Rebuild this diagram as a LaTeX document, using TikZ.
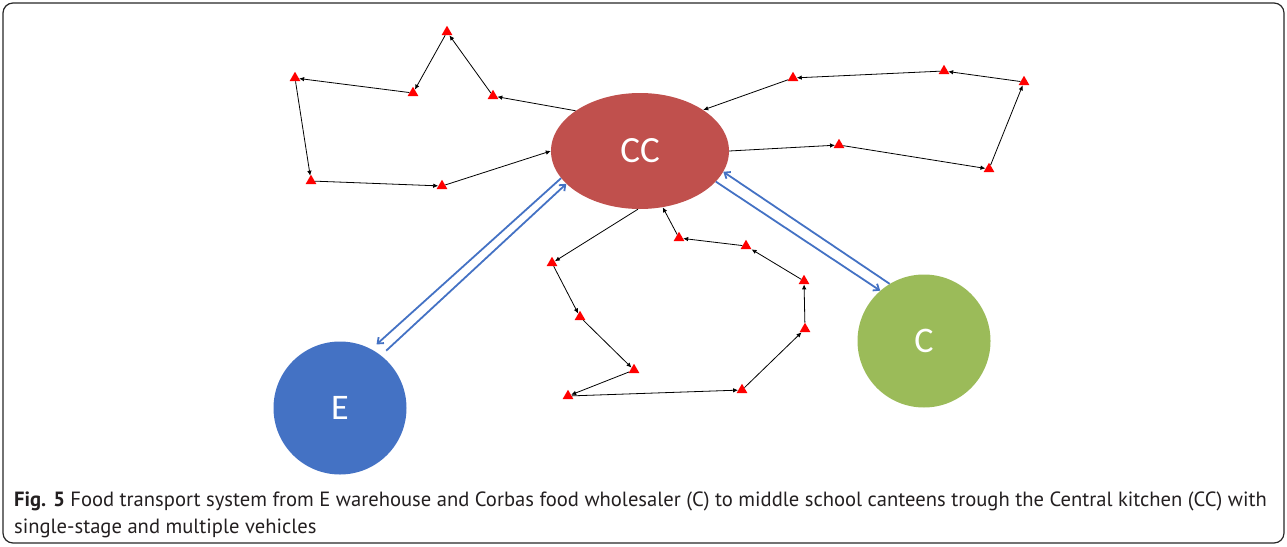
\documentclass[tikz,border=0pt]{standalone}
\usepackage{fontspec}
\setmainfont{PT Sans}
\newfontfamily\lbl{Carlito}
\usetikzlibrary{shapes.geometric,arrows.meta}
\definecolor{ccred}{HTML}{C0504D}
\definecolor{eblue}{HTML}{4472C4}
\definecolor{cgreen}{HTML}{9BBB59}
\definecolor{capgray}{HTML}{231F20}
\tikzset{
  stopmark/.style={regular polygon, regular polygon sides=3, fill=red, draw=none, inner sep=0pt, minimum size=12.5pt},
  route/.style={black, line width=0.8pt, -{Latex[length=5pt,width=4.5pt]}},
  supply/.style={eblue, line width=1.8pt, -{Straight Barb[length=5pt,width=8pt]}},
  hub/.style={ellipse, fill=ccred, draw=none, minimum width=178pt, minimum height=116pt, inner sep=0pt, text=white, font=\lbl\fontsize{37}{40}\selectfont},
  depot/.style={circle, draw=none, minimum size=133pt, inner sep=0pt, text=white, font=\lbl\fontsize{36}{40}\selectfont},
  captext/.style={anchor=base west, inner sep=0pt, text=capgray, font=\fontsize{20.6}{24}\selectfont}
}
\begin{document}
\begin{tikzpicture}[x=1pt,y=-1pt]
\useasboundingbox (0,0) rectangle (1287,546);
\draw[line width=1.2pt, rounded corners=10pt, black!85] (3,3) rectangle (1284,543);
% main nodes
\node[hub] (cc) at (640,151) {CC};
\node[depot, fill=eblue] (e) at (340,408) {E};
\node[depot, fill=cgreen] (c) at (924,341) {C};
% stops route 1
\node[stopmark] (t1) at (493,96) {};
\node[stopmark] (t2) at (447,32) {};
\node[stopmark] (t3) at (413,93) {};
\node[stopmark] (t4) at (295,78) {};
\node[stopmark] (t5) at (311,181) {};
\node[stopmark] (t6) at (442,186) {};
% stops route 2
\node[stopmark] (r1) at (839,145) {};
\node[stopmark] (r2) at (989,169) {};
\node[stopmark] (r3) at (1024,82) {};
\node[stopmark] (r4) at (944,71) {};
\node[stopmark] (r5) at (793,78) {};
% stops route 3
\node[stopmark] (b1) at (552,263) {};
\node[stopmark] (b2) at (580,317) {};
\node[stopmark] (b3) at (634,370) {};
\node[stopmark] (b4) at (568,396) {};
\node[stopmark] (b5) at (742,390) {};
\node[stopmark] (b6) at (805,329) {};
\node[stopmark] (b7) at (804,281) {};
\node[stopmark] (b8) at (746,246) {};
\node[stopmark] (b9) at (679,238) {};
% route 1
\draw[route] (cc.148) -- (t1);
\draw[route] (t1) -- (t2);
\draw[route] (t2) -- (t3);
\draw[route] (t3) -- (t4);
\draw[route] (t4) -- (t5);
\draw[route] (t5) -- (t6);
\draw[route] (t6) -- (cc.180);
% route 2
\draw[route] (cc.0) -- (r1);
\draw[route] (r1) -- (r2);
\draw[route] (r2) -- (r3);
\draw[route] (r3) -- (r4);
\draw[route] (r4) -- (r5);
\draw[route] (r5) -- (cc.33);
% route 3
\draw[route] (cc.268) -- (b1);
\draw[route] (b1) -- (b2);
\draw[route] (b2) -- (b3);
\draw[route] (b3) -- (b4);
\draw[route] (b4) -- (b5);
\draw[route] (b5) -- (b6);
\draw[route] (b6) -- (b7);
\draw[route] (b7) -- (b8);
\draw[route] (b8) -- (b9);
\draw[route] (b9) -- (cc.292);
% supply links
\draw[supply, shorten >=7pt] (cc.199) -- (e.62);
\draw[supply, shorten <=7pt] (e.52) -- (cc.204);
\draw[supply] (c.121) -- (cc.346);
\draw[supply] (cc.338) -- (c.131);
% caption
\node[captext] (cap1) at (14,506) {\textbf{Fig. 5} Food transport system from E warehouse and Corbas food wholesaler (C) to middle school canteens trough the Central kitchen (CC) with};
\node[captext] (cap2) at (14,533) {single-stage and multiple vehicles};
\end{tikzpicture}
\end{document}
